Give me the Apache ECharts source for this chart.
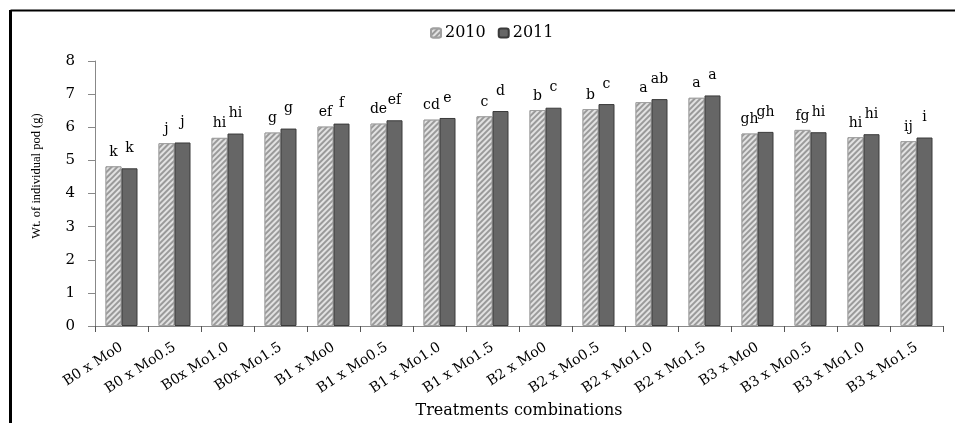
<!DOCTYPE html>
<html>
<head>
<meta charset="utf-8">
<script src="https://cdn.jsdelivr.net/npm/echarts@6/dist/echarts.min.js"></script>
<style>
html,body{margin:0;padding:0;background:#fff;}
#c{width:955px;height:423px;}
</style>
</head>
<body>
<div id="c"></div>
<script>
var categories = ['B0 x Mo0','B0 x Mo0.5','B0x Mo1.0','B0x Mo1.5','B1 x Mo0','B1 x Mo0.5','B1 x Mo1.0','B1 x Mo1.5','B2 x Mo0','B2 x Mo0.5','B2 x Mo1.0','B2 x Mo1.5','B3 x Mo0','B3 x Mo0.5','B3 x Mo1.0','B3 x Mo1.5'];
var values2010 = [4.82,5.52,5.68,5.84,6.02,6.11,6.23,6.33,6.52,6.55,6.76,6.89,5.81,5.92,5.70,5.58];
var values2011 = [4.76,5.54,5.81,5.96,6.11,6.21,6.28,6.49,6.59,6.70,6.85,6.96,5.86,5.85,5.79,5.69];
var letters2010 = ['k','j','hi','g','ef','de','cd','c','b','b','a','a','gh','fg','hi','ij'];
var letters2011 = ['k','j','hi','g','f','ef','e','d','c','c','ab','a','gh','hi','hi','i'];
var yTicks = [0,1,2,3,4,5,6,7,8];

var serif = '"Liberation Serif","Times New Roman",serif';
var wide = '"DejaVu Serif","Liberation Serif",serif';
var chart = echarts.init(document.getElementById('c'), null, {renderer:'canvas'});
chart.setOption({
  backgroundColor:'#fff',
  animation:false,
  legend:{
    data:['2010','2011'],
    top:20, left:425,
    itemWidth:10, itemHeight:9, itemGap:12,
    textStyle:{fontFamily:wide, fontSize:16, color:'#000', padding:[0,0,0,-1]}
  },
  grid:{left:95, right:12, top:61, bottom:97, containLabel:false, outerBoundsMode:'none'},
  xAxis:{
    type:'category',
    data:categories,
    axisLine:{lineStyle:{color:'#888', width:1}},
    axisTick:{show:true, length:6, lineStyle:{color:'#555'}},
    axisLabel:{rotate:33, fontFamily:wide, fontSize:14, color:'#000', margin:20, interval:0},
    name:'Treatments combinations',
    nameLocation:'middle', nameGap:77,
    nameTextStyle:{fontFamily:wide, fontSize:16, color:'#000'}
  },
  yAxis:{
    type:'value', min:0, max:8, interval:1,
    splitLine:{show:false},
    axisLine:{show:true, lineStyle:{color:'#888'}},
    axisTick:{show:true, length:7, lineStyle:{color:'#888'}},
    axisLabel:{fontFamily:wide, fontSize:15, color:'#000', margin:20,
      formatter:function(v){return yTicks.indexOf(v)>=0 ? String(v) : '';}}
  },
  graphic:[
    {type:'line', shape:{x1:10.5, y1:10.5, x2:955, y2:10.5}, style:{stroke:'#000', lineWidth:2}},
    {type:'line', shape:{x1:10.5, y1:10, x2:10.5, y2:423}, style:{stroke:'#000', lineWidth:3}},
    {type:'text', x:37, y:176, rotation:Math.PI/2, style:{text:'Wt. of individual pod (g)', font:'12.5px '+serif, fill:'#000', align:'center', verticalAlign:'middle'}}
  ],
  series:[
    {
      name:'2010', type:'bar', data:values2010,
      barWidth:16, barGap:'0%',
      itemStyle:{color:'#e2e2e2', borderColor:'#a0a0a0', borderWidth:1,
        decal:{symbol:'rect', symbolSize:1, rotation:-Math.PI/4, dashArrayX:[1,0], dashArrayY:[1.5,1.5], color:'#9a9a9a', backgroundColor:'#e2e2e2'}},
      label:{show:true, position:'top', distance:7, fontFamily:wide, fontSize:14, color:'#000',
        formatter:function(p){return letters2010[p.dataIndex];}}
    },
    {
      name:'2011', type:'bar', data:values2011,
      barWidth:16,
      itemStyle:{color:'#666666', borderColor:'#3a3a3a', borderWidth:1},
      label:{show:true, position:'top', distance:13, fontFamily:wide, fontSize:14, color:'#000',
        formatter:function(p){return letters2011[p.dataIndex];}}
    }
  ]
});
</script>
</body>
</html>
